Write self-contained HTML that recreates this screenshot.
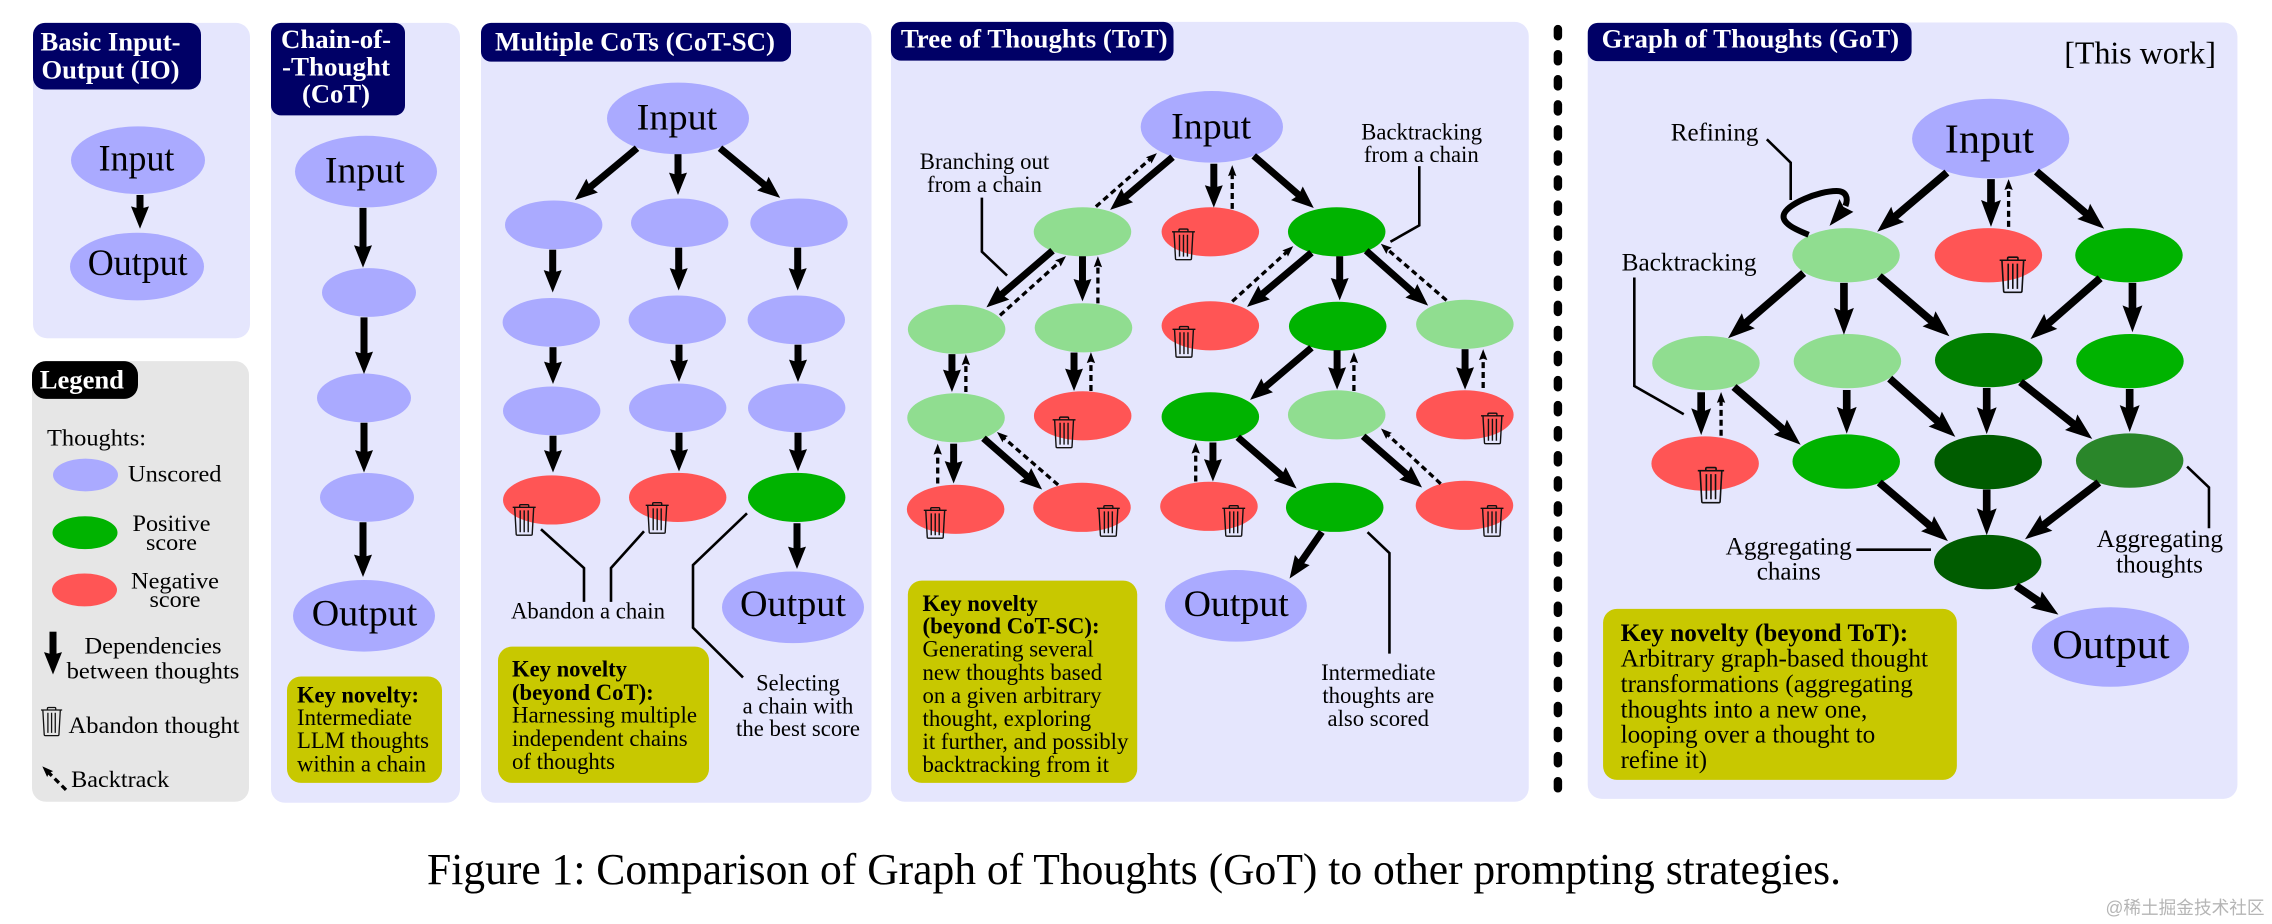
<!DOCTYPE html>
<html lang="en">
<head>
<meta charset="utf-8">
<title>Comparison of Graph of Thoughts (GoT) to other prompting strategies</title>
<style>
html,body{margin:0;padding:0;background:#fff}
svg{display:block}
text{font-family:"Liberation Serif","Noto Serif CJK SC",serif;fill:#000;font-size:23px}
.p{fill:#e5e6fd}.h{fill:#000066}.k{fill:#c8c800}
.hd{fill:#fff;font-weight:bold;font-size:27px}
.b{font-weight:bold}
.m{text-anchor:middle}
.t36{font-size:37px}.t42{font-size:42px}.t25{font-size:25px}
.u{fill:#aaaaff}.lg{fill:#90dd90}.gr{fill:#00b300}.dg{fill:#008000}.vd{fill:#005c00}.mg{fill:#2a862a}.r{fill:#ff5555}
.a{stroke:#000;stroke-width:7;fill:none;marker-end:url(#ha)}
.g{stroke:#000;stroke-width:7.7;fill:none;marker-end:url(#hg)}
.d{stroke:#000;stroke-width:3.3;fill:none;stroke-dasharray:6 4;marker-end:url(#hd)}
.l{stroke:#000;stroke-width:2.6;fill:none}
</style>
</head>
<body>
<svg xmlns="http://www.w3.org/2000/svg" width="2272" height="924" viewBox="0 0 2272 924">
<defs>
<marker id="ha" markerUnits="userSpaceOnUse" viewBox="-20 -15 40 30" markerWidth="40" markerHeight="30" refX="0" refY="0" orient="auto"><path d="M14,0 L-8.5,-9 L-6,0 L-8.5,9Z" fill="#000"/></marker>
<marker id="hg" markerUnits="userSpaceOnUse" viewBox="-20 -15 40 30" markerWidth="40" markerHeight="30" refX="0" refY="0" orient="auto"><path d="M14,0 L-13,-10 L-9,0 L-13,10Z" fill="#000"/></marker>
<marker id="hd" markerUnits="userSpaceOnUse" viewBox="-10 -10 20 20" markerWidth="20" markerHeight="20" refX="0" refY="0" orient="auto"><path d="M8,0 L-3,-4.2 L-1.5,0 L-3,4.2Z" fill="#000"/></marker>
<g id="t" fill="none" stroke="#111" stroke-width="1.4">
<path d="M0,4 H23 M7,4 V2.2 Q7,1.3 8,1.3 H15 Q16,1.3 16,2.2 V4"/>
<path d="M2,4 L3.5,31 Q3.6,32 4.6,32 H18.4 Q19.4,32 19.5,31 L21,4"/>
<path d="M7.5,7 V29 M11.5,7 V29 M15.5,7 V29"/>
</g>
</defs>

<g transform="scale(1,.9948)">
<!-- IO -->
<rect class="p" x="33" y="23" width="217" height="317" rx="14"/>
<rect class="h" x="33" y="23" width="168" height="67" rx="12"/>
<text class="hd" x="40.5" y="51" textLength="140" lengthAdjust="spacingAndGlyphs">Basic Input-</text>
<text class="hd" x="41.5" y="79" textLength="138" lengthAdjust="spacingAndGlyphs">Output (IO)</text>
<ellipse class="u" cx="138" cy="161" rx="67" ry="34"/>
<text class="t36 m" x="136.5" y="171.4" textLength="75.7" lengthAdjust="spacingAndGlyphs">Input</text>
<line class="a" x1="140" y1="196" x2="140" y2="216"/>
<ellipse class="u" cx="137" cy="268" rx="67" ry="34"/>
<text class="t36 m" x="137.7" y="276.5" textLength="100" lengthAdjust="spacingAndGlyphs">Output</text>

<!-- Legend -->
<rect x="32" y="363" width="217" height="443" rx="14" fill="#e6e6e6"/>
<rect x="32" y="363" width="106" height="38" rx="14" fill="#000"/>
<text class="hd" x="39.7" y="390.6" textLength="84.3" lengthAdjust="spacingAndGlyphs">Legend</text>
<text x="47" y="448" textLength="99" lengthAdjust="spacingAndGlyphs">Thoughts:</text>
<ellipse class="u" cx="85.5" cy="477.5" rx="32.5" ry="16.5"/>
<text x="128" y="484" textLength="93.5" lengthAdjust="spacingAndGlyphs">Unscored</text>
<ellipse class="gr" cx="85" cy="535.5" rx="32.5" ry="16.5"/>
<text class="m" x="171.5" y="534" textLength="78" lengthAdjust="spacingAndGlyphs">Positive</text>
<text class="m" x="171.5" y="553" textLength="51" lengthAdjust="spacingAndGlyphs">score</text>
<ellipse class="r" cx="84.5" cy="593" rx="32.5" ry="16.5"/>
<text class="m" x="175" y="591.5" textLength="88" lengthAdjust="spacingAndGlyphs">Negative</text>
<text class="m" x="175" y="610" textLength="51" lengthAdjust="spacingAndGlyphs">score</text>
<line class="a" x1="53" y1="635" x2="53" y2="664"/>
<text class="m" x="153" y="657" textLength="137" lengthAdjust="spacingAndGlyphs">Dependencies</text>
<text class="m" x="153" y="682" textLength="172.7" lengthAdjust="spacingAndGlyphs">between thoughts</text>
<use href="#t" transform="translate(41,710) scale(.92)"/>
<text x="68.5" y="737" textLength="171" lengthAdjust="spacingAndGlyphs">Abandon thought</text>
<line class="d" x1="66" y1="794" x2="48" y2="776"/>
<text x="71.2" y="791" textLength="98" lengthAdjust="spacingAndGlyphs">Backtrack</text>

<!-- CoT -->
<rect class="p" x="271" y="23" width="189" height="784" rx="14"/>
<rect class="h" x="271" y="23" width="134" height="93" rx="10"/>
<text class="hd m" x="336" y="48.4" textLength="110" lengthAdjust="spacingAndGlyphs">Chain-of-</text>
<text class="hd m" x="336" y="76" textLength="108" lengthAdjust="spacingAndGlyphs">-Thought</text>
<text class="hd m" x="336" y="103" textLength="68" lengthAdjust="spacingAndGlyphs">(CoT)</text>
<ellipse class="u" cx="366" cy="172.5" rx="71" ry="36"/>
<text class="t36 m" x="364.8" y="183.5" textLength="79.7" lengthAdjust="spacingAndGlyphs">Input</text>
<ellipse class="u" cx="369" cy="294" rx="47" ry="24.5"/>
<ellipse class="u" cx="364" cy="400" rx="47" ry="24.5"/>
<ellipse class="u" cx="367" cy="500" rx="47" ry="24.5"/>
<ellipse class="u" cx="364" cy="619" rx="71" ry="36"/>
<text class="t36 m" x="364.5" y="629" textLength="105.6" lengthAdjust="spacingAndGlyphs">Output</text>
<line class="a" x1="363" y1="209" x2="363" y2="255"/>
<line class="a" x1="364" y1="319" x2="364" y2="362"/>
<line class="a" x1="364" y1="425" x2="364" y2="461"/>
<line class="a" x1="363" y1="525" x2="363" y2="566"/>
<rect class="k" x="287" y="680" width="155" height="107" rx="14"/>
<text class="b" x="297" y="706" textLength="122" lengthAdjust="spacingAndGlyphs">Key novelty:</text>
<text x="297" y="729" textLength="115" lengthAdjust="spacingAndGlyphs">Intermediate</text>
<text x="297" y="752" textLength="132" lengthAdjust="spacingAndGlyphs">LLM thoughts</text>
<text x="297" y="775.5" textLength="129" lengthAdjust="spacingAndGlyphs">within a chain</text>

<!-- CoT-SC -->
<rect class="p" x="481" y="23" width="390.5" height="784" rx="14"/>
<rect class="h" x="481" y="23" width="310" height="39" rx="10"/>
<text class="hd" x="495" y="51" textLength="280" lengthAdjust="spacingAndGlyphs">Multiple CoTs (CoT-SC)</text>
<ellipse class="u" cx="678" cy="119" rx="71" ry="36"/>
<text class="t36 m" x="677" y="130.4" textLength="80.6" lengthAdjust="spacingAndGlyphs">Input</text>
<ellipse class="u" cx="553.7" cy="226" rx="48.7" ry="24.5"/>
<ellipse class="u" cx="679.7" cy="224" rx="48.7" ry="24.5"/>
<ellipse class="u" cx="799" cy="224" rx="48.7" ry="24.5"/>
<ellipse class="u" cx="551.3" cy="324" rx="48.7" ry="24.5"/>
<ellipse class="u" cx="677.3" cy="321.5" rx="48.7" ry="24.5"/>
<ellipse class="u" cx="796.3" cy="321.5" rx="48.7" ry="24.5"/>
<ellipse class="u" cx="551.7" cy="413" rx="48.7" ry="24.5"/>
<ellipse class="u" cx="677.7" cy="410" rx="48.7" ry="24.5"/>
<ellipse class="u" cx="796.7" cy="410" rx="48.7" ry="24.5"/>
<ellipse class="r" cx="551.7" cy="502.6" rx="48.7" ry="24.7"/>
<ellipse class="r" cx="677.7" cy="500" rx="48.7" ry="24.7"/>
<ellipse class="gr" cx="796.7" cy="500" rx="48.7" ry="24.7"/>
<use href="#t" transform="translate(512.7,506)"/>
<use href="#t" transform="translate(645.7,504)"/>
<line class="a" x1="637" y1="149" x2="585.6" y2="192"/>
<line class="a" x1="678" y1="155" x2="678" y2="182"/>
<line class="a" x1="720" y1="149" x2="769.4" y2="190"/>
<line class="a" x1="552.7" y1="251" x2="552.7" y2="280"/>
<line class="a" x1="678.7" y1="249" x2="678.7" y2="278"/>
<line class="a" x1="797.7" y1="249" x2="797.7" y2="278"/>
<line class="a" x1="553" y1="349" x2="553" y2="372"/>
<line class="a" x1="679" y1="346.5" x2="679" y2="370"/>
<line class="a" x1="798" y1="346.5" x2="798" y2="370"/>
<line class="a" x1="553" y1="438" x2="553" y2="461"/>
<line class="a" x1="679" y1="435" x2="679" y2="460"/>
<line class="a" x1="798" y1="435" x2="798" y2="460"/>
<line class="a" x1="797" y1="526" x2="797" y2="558"/>
<ellipse class="u" cx="793" cy="610.5" rx="71" ry="36"/>
<text class="t36 m" x="793" y="619.4" textLength="106" lengthAdjust="spacingAndGlyphs">Output</text>
<polyline class="l" points="541,532 584,571 584,605"/>
<polyline class="l" points="644,534 611,571 611,605"/>
<polyline class="l" points="747,516 693,568 693,631 743,681"/>
<text x="511" y="621.5" textLength="154" lengthAdjust="spacingAndGlyphs">Abandon a chain</text>
<text class="m" x="798" y="694" textLength="83.7" lengthAdjust="spacingAndGlyphs">Selecting</text>
<text class="m" x="798" y="717" textLength="110.7" lengthAdjust="spacingAndGlyphs">a chain with</text>
<text class="m" x="798" y="740" textLength="124" lengthAdjust="spacingAndGlyphs">the best score</text>
<rect class="k" x="498" y="650" width="211" height="137" rx="14"/>
<text class="b" x="512" y="680" textLength="115" lengthAdjust="spacingAndGlyphs">Key novelty</text>
<text class="b" x="512" y="703.5" textLength="141.7" lengthAdjust="spacingAndGlyphs">(beyond CoT):</text>
<text x="512" y="726.5" textLength="185" lengthAdjust="spacingAndGlyphs">Harnessing multiple</text>
<text x="512" y="750" textLength="175.7" lengthAdjust="spacingAndGlyphs">independent chains</text>
<text x="512" y="773" textLength="103" lengthAdjust="spacingAndGlyphs">of thoughts</text>

<!-- ToT -->
<g transform="matrix(.995 0 0 1 4.4 0)">
<rect class="p" x="891" y="22" width="641" height="784" rx="14"/>
<rect class="h" x="891" y="22" width="284" height="39" rx="10"/>
<text class="hd" x="901" y="48" textLength="268" lengthAdjust="spacingAndGlyphs">Tree of Thoughts (ToT)</text>
<ellipse class="u" cx="1213.5" cy="127.5" rx="71.5" ry="36"/>
<text class="t36 m" x="1212.8" y="139.3" textLength="80.4" lengthAdjust="spacingAndGlyphs">Input</text>
<ellipse class="lg" cx="1083.5" cy="233" rx="49" ry="24.7"/>
<ellipse class="r" cx="1212" cy="233" rx="49" ry="24.7"/>
<ellipse class="gr" cx="1339" cy="233" rx="49" ry="24.7"/>
<ellipse class="lg" cx="957" cy="331" rx="49" ry="24.7"/>
<ellipse class="lg" cx="1084.5" cy="329.5" rx="49" ry="24.7"/>
<ellipse class="r" cx="1212" cy="327.5" rx="49" ry="24.7"/>
<ellipse class="gr" cx="1340" cy="328" rx="49" ry="24.7"/>
<ellipse class="lg" cx="1467.8" cy="326" rx="49" ry="24.7"/>
<ellipse class="lg" cx="956.4" cy="420" rx="49" ry="24.7"/>
<ellipse class="r" cx="1083.7" cy="418" rx="49" ry="24.7"/>
<ellipse class="gr" cx="1212" cy="419" rx="49" ry="24.7"/>
<ellipse class="lg" cx="1339" cy="417" rx="49" ry="24.7"/>
<ellipse class="r" cx="1467.8" cy="417" rx="49" ry="24.7"/>
<ellipse class="r" cx="956" cy="512" rx="49" ry="24.7"/>
<ellipse class="r" cx="1083" cy="510" rx="49" ry="24.7"/>
<ellipse class="r" cx="1210.6" cy="509" rx="49" ry="24.7"/>
<ellipse class="gr" cx="1337" cy="510" rx="49" ry="24.7"/>
<ellipse class="r" cx="1467.4" cy="508" rx="49" ry="24.7"/>
<ellipse class="u" cx="1237.7" cy="609" rx="71.3" ry="36"/>
<text class="t36 m" x="1238" y="619.4" textLength="105.8" lengthAdjust="spacingAndGlyphs">Output</text>
<use href="#t" transform="translate(1173.5,229)"/>
<use href="#t" transform="translate(1174,327)"/>
<use href="#t" transform="translate(1053.5,418)"/>
<use href="#t" transform="translate(1484,414)"/>
<use href="#t" transform="translate(924,509)"/>
<use href="#t" transform="translate(1098,507)"/>
<use href="#t" transform="translate(1224,507)"/>
<use href="#t" transform="translate(1483.6,507)"/>
<line class="a" x1="1174" y1="158" x2="1122" y2="201.9"/>
<line class="a" x1="1215.5" y1="164.6" x2="1215.5" y2="194.7"/>
<line class="a" x1="1255.6" y1="156.7" x2="1305.4" y2="199.9"/>
<line class="d" x1="1097" y1="207.7" x2="1152.3" y2="159.2"/>
<line class="d" x1="1234" y1="210" x2="1234" y2="174"/>
<line class="a" x1="1053.4" y1="252" x2="997.6" y2="299.9"/>
<line class="a" x1="1083.5" y1="257.6" x2="1083.5" y2="289"/>
<line class="d" x1="1000.6" y1="317" x2="1061" y2="262.8"/>
<line class="d" x1="1099" y1="305" x2="1099" y2="265.6"/>
<line class="a" x1="1313.6" y1="254" x2="1259.6" y2="299.5"/>
<line class="a" x1="1342" y1="257.6" x2="1342" y2="288"/>
<line class="a" x1="1368.6" y1="252" x2="1420.4" y2="297.9"/>
<line class="d" x1="1234" y1="303" x2="1289.4" y2="252.8"/>
<line class="d" x1="1449.4" y1="302" x2="1389.4" y2="250.2"/>
<line class="a" x1="952.3" y1="356" x2="952.3" y2="380"/>
<line class="d" x1="966.3" y1="394" x2="966.3" y2="364"/>
<line class="a" x1="1075" y1="354.4" x2="1075" y2="379"/>
<line class="d" x1="1092" y1="393" x2="1092" y2="362"/>
<line class="a" x1="1313.6" y1="349.6" x2="1262.6" y2="392.9"/>
<line class="a" x1="1339.4" y1="352" x2="1339.4" y2="377.7"/>
<line class="d" x1="1356.3" y1="393" x2="1356.3" y2="362"/>
<line class="a" x1="1468" y1="351" x2="1468" y2="377.7"/>
<line class="d" x1="1486.2" y1="390" x2="1486.2" y2="359"/>
<line class="a" x1="954" y1="446" x2="954" y2="472"/>
<line class="d" x1="938" y1="486" x2="938" y2="454"/>
<line class="a" x1="984" y1="440.6" x2="1032.4" y2="482.9"/>
<line class="d" x1="1059" y1="487.4" x2="1003.6" y2="439.5"/>
<line class="a" x1="1214.6" y1="444.8" x2="1214.6" y2="470"/>
<line class="d" x1="1197.3" y1="484" x2="1197.3" y2="453"/>
<line class="a" x1="1239.6" y1="439.5" x2="1288.2" y2="481.9"/>
<line class="a" x1="1365.6" y1="438.5" x2="1414.2" y2="480.9"/>
<line class="d" x1="1443.5" y1="486.3" x2="1389.4" y2="436.2"/>
<line class="a" x1="1324" y1="534.7" x2="1299.6" y2="570"/>
<polyline class="l" points="982.4,198.7 982.4,253 1007.7,277"/>
<polyline class="l" points="1422,167 1422,226.6 1393,243"/>
<polyline class="l" points="1370,535 1392,556 1392,657"/>
<text class="m" x="985" y="170" textLength="130" lengthAdjust="spacingAndGlyphs">Branching out</text>
<text class="m" x="985" y="193" textLength="115.5" lengthAdjust="spacingAndGlyphs">from a chain</text>
<text class="m" x="1424.4" y="140" textLength="121.4" lengthAdjust="spacingAndGlyphs">Backtracking</text>
<text class="m" x="1424" y="163" textLength="115.5" lengthAdjust="spacingAndGlyphs">from a chain</text>
<text class="m" x="1380.8" y="683.5" textLength="115" lengthAdjust="spacingAndGlyphs">Intermediate</text>
<text class="m" x="1380.8" y="706.6" textLength="112.5" lengthAdjust="spacingAndGlyphs">thoughts are</text>
<text class="m" x="1380.8" y="730" textLength="102" lengthAdjust="spacingAndGlyphs">also scored</text>
<rect class="k" x="908" y="583.6" width="230.5" height="203.4" rx="14"/>
<text class="b" x="922.7" y="614" textLength="116" lengthAdjust="spacingAndGlyphs">Key novelty</text>
<text class="b" x="922.7" y="637" textLength="178" lengthAdjust="spacingAndGlyphs">(beyond CoT-SC):</text>
<text x="922.7" y="660" textLength="172" lengthAdjust="spacingAndGlyphs">Generating several</text>
<text x="922.7" y="683.5" textLength="180.6" lengthAdjust="spacingAndGlyphs">new thoughts based</text>
<text x="922.7" y="706.6" textLength="180" lengthAdjust="spacingAndGlyphs">on a given arbitrary</text>
<text x="922.7" y="730" textLength="169.6" lengthAdjust="spacingAndGlyphs">thought, exploring</text>
<text x="922.7" y="753" textLength="207" lengthAdjust="spacingAndGlyphs">it further, and possibly</text>
<text x="922.7" y="776" textLength="187.4" lengthAdjust="spacingAndGlyphs">backtracking from it</text>
</g>

<!-- Divider and GoT -->
<g transform="matrix(.9949 0 0 1 7.85 0)">
<line x1="1558" y1="29.25" x2="1558" y2="795" stroke="#000" stroke-width="8.5" stroke-linecap="round" stroke-dasharray="7.2 18"/>
<rect class="p" x="1588" y="22.6" width="653" height="780.4" rx="14"/>
<rect class="h" x="1588" y="23" width="325.5" height="38.5" rx="10"/>
<text class="hd" x="1602" y="48" textLength="299" lengthAdjust="spacingAndGlyphs">Graph of Thoughts (GoT)</text>
<text x="2067" y="64" style="font-size:32px" textLength="152.5" lengthAdjust="spacingAndGlyphs">[This work]</text>
<ellipse class="u" cx="1993" cy="139.3" rx="79" ry="40"/>
<text class="t42 m" x="1991.7" y="153.5" textLength="89.6" lengthAdjust="spacingAndGlyphs">Input</text>
<ellipse class="lg" cx="1847.6" cy="256.6" rx="54" ry="27.3"/>
<ellipse class="r" cx="1990.7" cy="256.6" rx="54" ry="27.3"/>
<ellipse class="gr" cx="2132" cy="256.6" rx="54" ry="27.3"/>
<ellipse class="lg" cx="1706.8" cy="365" rx="54" ry="27.3"/>
<ellipse class="lg" cx="1849" cy="363" rx="54" ry="27.3"/>
<ellipse class="dg" cx="1991" cy="362" rx="54" ry="27.3"/>
<ellipse class="gr" cx="2133" cy="363" rx="54" ry="27.3"/>
<ellipse class="r" cx="1706" cy="466" rx="54" ry="27.3"/>
<ellipse class="gr" cx="1847.8" cy="464" rx="54" ry="27.3"/>
<ellipse class="vd" cx="1990.5" cy="464.5" rx="54" ry="27.3"/>
<ellipse class="mg" cx="2132.7" cy="463" rx="54" ry="27.3"/>
<ellipse class="vd" cx="1990" cy="565" rx="54" ry="27.3"/>
<ellipse class="u" cx="2113.4" cy="650.4" rx="79" ry="40"/>
<text class="t42 m" x="2113.9" y="661.4" textLength="118" lengthAdjust="spacingAndGlyphs">Output</text>
<use href="#t" transform="translate(2002,257) scale(1.15)"/>
<use href="#t" transform="translate(1698.6,468.5) scale(1.15)"/>
<line class="g" x1="1949" y1="173.5" x2="1889.6" y2="223.9"/>
<line class="g" x1="1993.3" y1="180" x2="1993.3" y2="214"/>
<line class="d" x1="2011" y1="228" x2="2011" y2="188"/>
<line class="g" x1="2039" y1="172.5" x2="2096.4" y2="220.9"/>
<line class="g" x1="1805" y1="274.5" x2="1739.6" y2="330.9"/>
<line class="g" x1="1845.5" y1="284.4" x2="1845.5" y2="322.5"/>
<line class="g" x1="1881" y1="277.6" x2="1940.9" y2="328.9"/>
<line class="g" x1="2103" y1="279.7" x2="2043.6" y2="331.6"/>
<line class="g" x1="2135.5" y1="284.4" x2="2135.5" y2="320"/>
<line class="g" x1="1702" y1="394.3" x2="1702" y2="423.4"/>
<line class="d" x1="1722" y1="438" x2="1722" y2="402"/>
<line class="g" x1="1735" y1="389" x2="1791.4" y2="437.9"/>
<line class="g" x1="1848.3" y1="392" x2="1848.3" y2="422"/>
<line class="g" x1="1891.5" y1="380.6" x2="1947" y2="429.9"/>
<line class="g" x1="1989" y1="390" x2="1989" y2="422.4"/>
<line class="g" x1="2023" y1="384" x2="2084.1" y2="432.5"/>
<line class="g" x1="2132.7" y1="391" x2="2132.7" y2="420.3"/>
<line class="g" x1="1881" y1="485" x2="1939.4" y2="534.9"/>
<line class="g" x1="1989" y1="492" x2="1989" y2="524"/>
<line class="g" x1="2101.7" y1="485" x2="2038.6" y2="533.5"/>
<line class="g" x1="2018.6" y1="589" x2="2049.5" y2="610"/>
<path d="M1810 236 C1795 230 1783 224 1785 216 C1788 205 1820 192 1838 192 C1848 192 1850 199 1847 207" fill="none" stroke="#000" stroke-width="6"/>
<polygon points="1831,227 1841,200 1845,208 1855,213" fill="#000"/>
<polyline class="l" points="1768,140 1792,163.5 1792,201"/>
<polyline class="l" points="1634.8,279 1634.8,388 1684.5,416.4"/>
<polyline class="l" points="2190.4,469 2212.4,490 2212.4,531"/>
<line class="l" x1="1858" y1="552.6" x2="1933" y2="552.6"/>
<text class="t25" x="1671.4" y="141" textLength="88.2" lengthAdjust="spacingAndGlyphs">Refining</text>
<text class="t25" x="1622" y="272" textLength="135.6" lengthAdjust="spacingAndGlyphs">Backtracking</text>
<text class="t25 m" x="1790" y="557.3" textLength="126.7" lengthAdjust="spacingAndGlyphs">Aggregating</text>
<text class="t25 m" x="1790" y="582.5" textLength="64.3" lengthAdjust="spacingAndGlyphs">chains</text>
<text class="t25 m" x="2163" y="550" textLength="127" lengthAdjust="spacingAndGlyphs">Aggregating</text>
<text class="t25 m" x="2162.7" y="575.7" textLength="87.3" lengthAdjust="spacingAndGlyphs">thoughts</text>
<rect class="k" x="1603.4" y="612" width="355.6" height="172" rx="14"/>
<text class="t25 b" x="1621" y="644.6" textLength="289" lengthAdjust="spacingAndGlyphs">Key novelty (beyond ToT):</text>
<text class="t25" x="1621" y="669.8" textLength="309" lengthAdjust="spacingAndGlyphs">Arbitrary graph-based thought</text>
<text class="t25" x="1621" y="695.6" textLength="293.8" lengthAdjust="spacingAndGlyphs">transformations (aggregating</text>
<text class="t25" x="1621" y="721.3" textLength="248" lengthAdjust="spacingAndGlyphs">thoughts into a new one,</text>
<text class="t25" x="1621" y="746.6" textLength="256" lengthAdjust="spacingAndGlyphs">looping over a thought to</text>
<text class="t25" x="1621" y="772" textLength="87" lengthAdjust="spacingAndGlyphs">refine it)</text>
</g>
</g>

<!-- Caption -->
<text x="427" y="884" style="font-size:44px" textLength="1414" lengthAdjust="spacingAndGlyphs">Figure 1: Comparison of Graph of Thoughts (GoT) to other prompting strategies.</text>
<text x="2105.5" y="914" style="font-size:18px;fill:#b5b5b5;font-family:'Liberation Sans','Noto Sans CJK SC',sans-serif" textLength="159" lengthAdjust="spacingAndGlyphs">@稀土掘金技术社区</text>
</svg>
</body>
</html>
